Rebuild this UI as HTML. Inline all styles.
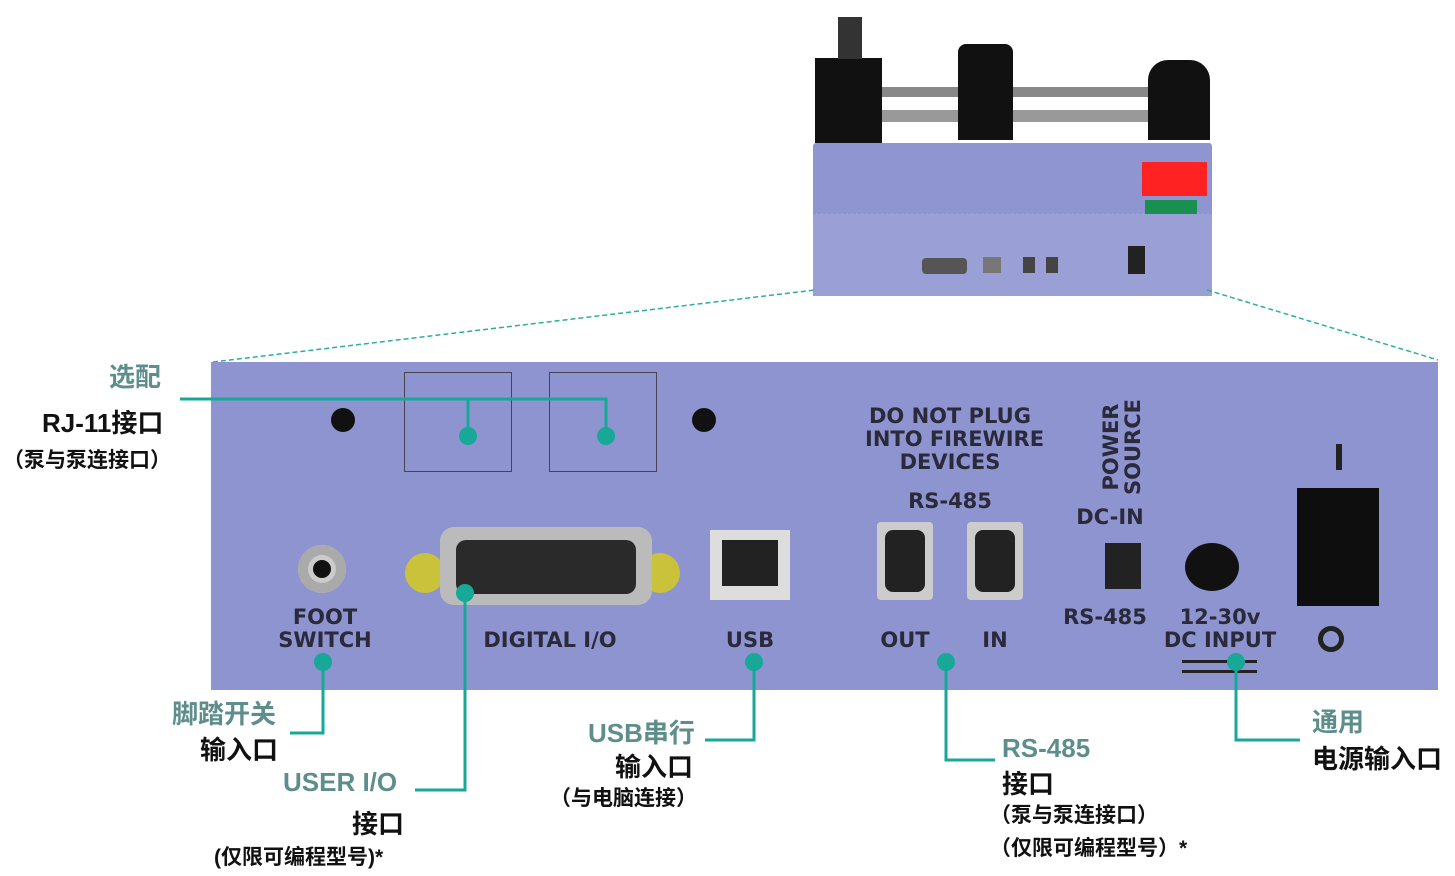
<!DOCTYPE html>
<html><head><meta charset="utf-8"><style>
body{margin:0;width:1455px;height:876px;background:#fff;position:relative;overflow:hidden;font-family:"Liberation Sans","Noto Sans CJK SC",sans-serif}
.a{position:absolute}
.t{position:absolute;font-weight:bold;white-space:nowrap}
.g{color:#5e8e8c;font-size:26px}
.k{color:#111;font-size:26px}
.s{color:#111;font-size:21px}
.p{position:absolute;color:#2a2a3a;font-weight:bold;font-family:"DejaVu Sans",sans-serif;font-size:21px;text-align:center;line-height:23px;white-space:nowrap}
</style></head><body>
<!-- device -->
<div class="a" style="left:813px;top:143px;width:399px;height:152px;background:#8e95d0;border-radius:3px"></div>
<div class="a" style="left:813px;top:213px;width:399px;height:82px;background:#9aa0d6;border-top:1px dashed #4bb"></div>
<div class="a" style="left:880px;top:87px;width:270px;height:10px;background:#888"></div>
<div class="a" style="left:880px;top:110px;width:270px;height:12px;background:#999"></div>
<div class="a" style="left:815px;top:58px;width:67px;height:85px;background:#111"></div>
<div class="a" style="left:838px;top:17px;width:24px;height:42px;background:#333"></div>
<div class="a" style="left:958px;top:44px;width:55px;height:96px;background:#111;border-radius:8px 8px 0 0"></div>
<div class="a" style="left:1148px;top:60px;width:62px;height:80px;background:#111;border-radius:20px 20px 0 0"></div>
<div class="a" style="left:1142px;top:162px;width:65px;height:34px;background:#f22"></div>
<div class="a" style="left:1145px;top:200px;width:52px;height:14px;background:#1a9050"></div>
<div class="a" style="left:1128px;top:246px;width:17px;height:28px;background:#222"></div>
<div class="a" style="left:922px;top:258px;width:45px;height:16px;background:#555;border-radius:4px"></div>
<div class="a" style="left:983px;top:257px;width:18px;height:16px;background:#777"></div>
<div class="a" style="left:1023px;top:257px;width:12px;height:16px;background:#444"></div>
<div class="a" style="left:1046px;top:257px;width:12px;height:16px;background:#444"></div>
<!-- dashed -->
<svg class="a" style="left:0;top:0" width="1455" height="876">
<line x1="213" y1="362" x2="815" y2="290" stroke="#2ab0a0" stroke-width="1.5" stroke-dasharray="5,3"/>
<line x1="1207" y1="290" x2="1438" y2="360" stroke="#2ab0a0" stroke-width="1.5" stroke-dasharray="5,3"/>
</svg>
<!-- panel -->
<div class="a" style="left:211px;top:362px;width:1227px;height:328px;background:#8e94d0"></div>
<div class="a" style="left:404px;top:372px;width:106px;height:98px;border:1.5px solid #445"></div>
<div class="a" style="left:549px;top:372px;width:106px;height:98px;border:1.5px solid #445"></div>
<div class="a" style="left:331px;top:408px;width:24px;height:24px;background:#111;border-radius:50%"></div>
<div class="a" style="left:692px;top:408px;width:24px;height:24px;background:#111;border-radius:50%"></div>
<div class="a" style="left:298px;top:545px;width:48px;height:48px;background:#ccc;border-radius:50%;box-shadow:inset 0 0 0 10px #aaa"></div>
<div class="a" style="left:313px;top:560px;width:18px;height:18px;background:#111;border-radius:50%"></div>
<div class="a" style="left:405px;top:553px;width:40px;height:40px;background:#c9c23a;border-radius:50%"></div>
<div class="a" style="left:640px;top:553px;width:40px;height:40px;background:#c9c23a;border-radius:50%"></div>
<div class="a" style="left:440px;top:527px;width:212px;height:78px;background:#bbb;border-radius:14px"></div>
<div class="a" style="left:456px;top:540px;width:180px;height:54px;background:#2a2a2a;border-radius:10px"></div>
<div class="a" style="left:710px;top:530px;width:80px;height:70px;background:#ddd"></div>
<div class="a" style="left:722px;top:540px;width:56px;height:46px;background:#222"></div>
<div class="a" style="left:877px;top:522px;width:56px;height:78px;background:#ccc;border-radius:4px"></div>
<div class="a" style="left:885px;top:530px;width:40px;height:62px;background:#222;border-radius:8px"></div>
<div class="a" style="left:967px;top:522px;width:56px;height:78px;background:#ccc;border-radius:4px"></div>
<div class="a" style="left:975px;top:530px;width:40px;height:62px;background:#222;border-radius:8px"></div>
<div class="a" style="left:1105px;top:543px;width:36px;height:46px;background:#222"></div>
<div class="a" style="left:1185px;top:543px;width:54px;height:48px;background:#111;border-radius:50%"></div>
<div class="a" style="left:1297px;top:488px;width:82px;height:118px;background:#0e0e0e"></div>
<div class="a" style="left:1336px;top:444px;width:6px;height:26px;background:#222"></div>
<div class="a" style="left:1318px;top:626px;width:26px;height:26px;border:5px solid #222;border-radius:50%;box-sizing:border-box"></div>
<div class="a" style="left:1182px;top:660px;width:75px;height:3px;background:#222"></div>
<div class="a" style="left:1182px;top:670px;width:75px;height:3px;background:#222"></div>
<div class="p" style="left:865px;top:405px;width:170px">DO NOT PLUG<br>INTO FIREWIRE<br>DEVICES</div>
<div class="p" style="left:900px;top:490px;width:100px">RS-485</div>
<div class="p" style="left:1070px;top:506px;width:80px">DC-IN</div>
<div class="p" style="left:1072px;top:425px;transform:rotate(-90deg);width:100px;line-height:22px">POWER<br>SOURCE</div>
<div class="p" style="left:1060px;top:606px;width:90px">RS-485</div>
<div class="p" style="left:1160px;top:606px;width:120px">12-30v<br>DC INPUT</div>
<div class="p" style="left:270px;top:606px;width:110px">FOOT<br>SWITCH</div>
<div class="p" style="left:470px;top:629px;width:160px">DIGITAL I/O</div>
<div class="p" style="left:720px;top:629px;width:60px">USB</div>
<div class="p" style="left:875px;top:629px;width:60px">OUT</div>
<div class="p" style="left:970px;top:629px;width:50px">IN</div>
<!-- callouts -->
<svg class="a" style="left:0;top:0" width="1455" height="876" fill="none" stroke="#17a898" stroke-width="3">
<path d="M180 399H606V436M468 399V436"/>
<path d="M323 662V733H290"/>
<path d="M465 593V790H415"/>
<path d="M754 662V740H705"/>
<path d="M946 662V760H995"/>
<path d="M1236 662V740H1300"/>
<g fill="#17a898" stroke="none">
<circle cx="468" cy="436" r="9"/><circle cx="606" cy="436" r="9"/><circle cx="323" cy="662" r="9"/><circle cx="465" cy="593" r="9"/><circle cx="754" cy="662" r="9"/><circle cx="946" cy="662" r="9"/><circle cx="1236" cy="662" r="9"/></g>
</svg>
<div class="t g" style="left:109px;top:357px">选配</div>
<div class="t k" style="left:42px;top:403px">RJ-11接口</div>
<div class="t s" style="left:3px;top:444px">（泵与泵连接口）</div>
<div class="t g" style="left:172px;top:694px">脚踏开关</div>
<div class="t k" style="left:200px;top:730px">输入口</div>
<div class="t g" style="left:283px;top:767px">USER I/O</div>
<div class="t k" style="left:352px;top:804px">接口</div>
<div class="t s" style="left:214px;top:841px">(仅限可编程型号)*</div>
<div class="t g" style="left:588px;top:713px">USB串行</div>
<div class="t k" style="left:615px;top:747px">输入口</div>
<div class="t s" style="left:550px;top:782px">（与电脑连接）</div>
<div class="t g" style="left:1002px;top:733px">RS-485</div>
<div class="t k" style="left:1002px;top:764px">接口</div>
<div class="t s" style="left:990px;top:799px">（泵与泵连接口）</div>
<div class="t s" style="left:990px;top:832px">（仅限可编程型号）*</div>
<div class="t g" style="left:1312px;top:702px">通用</div>
<div class="t k" style="left:1312px;top:739px">电源输入口</div>
</body></html>
